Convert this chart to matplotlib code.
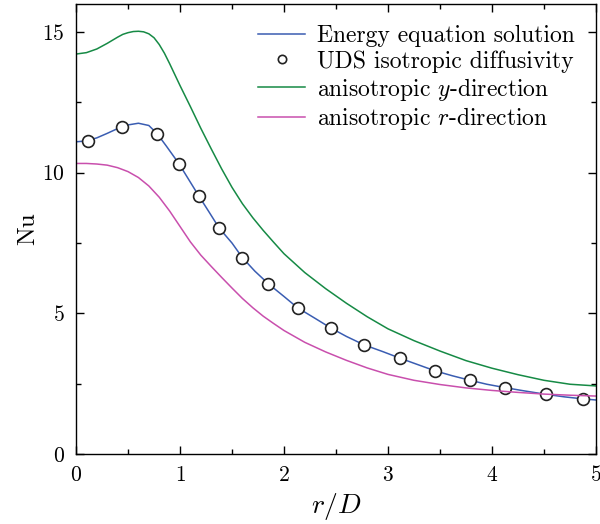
import matplotlib
matplotlib.use("Agg")
import matplotlib.pyplot as plt
import numpy as np

# values
x_energy = [0.0, 0.1, 0.2, 0.3, 0.4, 0.5, 0.6, 0.7, 0.78, 0.87, 0.99, 1.1, 1.18, 1.28, 1.375,
            1.5, 1.60, 1.72, 1.85, 2.0, 2.13, 2.3, 2.45, 2.6, 2.77, 2.95, 3.12, 3.3, 3.45,
            3.62, 3.79, 3.95, 4.125, 4.3, 4.52, 4.7, 4.875, 5.0]
nu_energy = [11.1, 11.13, 11.24, 11.4, 11.57, 11.7, 11.76, 11.68, 11.39, 10.94, 10.32, 9.66, 9.18,
             8.6, 8.04, 7.5, 6.98, 6.5, 6.05, 5.6, 5.2, 4.82, 4.48, 4.18, 3.88, 3.64, 3.4,
             3.16, 2.96, 2.78, 2.62, 2.48, 2.36, 2.25, 2.12, 2.03, 1.96, 1.92]

x_uds = [0.115, 0.44, 0.78, 0.99, 1.18, 1.375, 1.60, 1.85, 2.13, 2.45, 2.77,
         3.12, 3.45, 3.79, 4.125, 4.52, 4.875]
nu_uds = [11.14, 11.64, 11.39, 10.32, 9.18, 8.04, 6.98, 6.05, 5.2, 4.48, 3.88,
          3.4, 2.96, 2.62, 2.36, 2.12, 1.96]

x_y = [0.0, 0.1, 0.2, 0.3, 0.4, 0.45, 0.5, 0.55, 0.6, 0.65, 0.7, 0.75, 0.8, 0.85, 0.9, 1.0,
       1.1, 1.2, 1.3, 1.4, 1.5, 1.6, 1.7, 1.8, 1.9, 2.0, 2.2, 2.4, 2.6, 2.8, 3.0, 3.25, 3.5,
       3.75, 4.0, 4.25, 4.5, 4.75, 5.0]
nu_y = [14.22, 14.27, 14.4, 14.6, 14.82, 14.92, 14.98, 15.02, 15.03, 15.01, 14.94, 14.8, 14.56,
        14.25, 13.88, 13.1, 12.35, 11.58, 10.85, 10.14, 9.48, 8.9, 8.4, 7.95, 7.53, 7.12, 6.45,
        5.88, 5.36, 4.88, 4.45, 4.03, 3.66, 3.32, 3.05, 2.82, 2.62, 2.48, 2.42]

x_r = [0.0, 0.1, 0.2, 0.3, 0.4, 0.5, 0.6, 0.7, 0.8, 0.9, 1.0, 1.1, 1.2, 1.3, 1.4, 1.5, 1.6,
       1.7, 1.8, 1.9, 2.0, 2.2, 2.4, 2.6, 2.8, 3.0, 3.25, 3.5, 3.75, 4.0, 4.25, 4.5, 4.75, 5.0]
nu_r = [10.33, 10.33, 10.31, 10.27, 10.18, 10.04, 9.83, 9.53, 9.13, 8.64, 8.09, 7.54, 7.07,
        6.67, 6.28, 5.9, 5.53, 5.2, 4.9, 4.64, 4.39, 3.97, 3.63, 3.33, 3.06, 2.83, 2.62,
        2.47, 2.35, 2.26, 2.19, 2.13, 2.09, 2.06]

plt.rcParams['font.family'] = 'serif'
plt.rcParams['font.serif'] = ['cmr10']
plt.rcParams['mathtext.fontset'] = 'cm'
plt.rcParams['axes.formatter.use_mathtext'] = True
plt.rcParams['font.size'] = 15.5

fig = plt.figure(figsize=(6.0, 5.24), dpi=100)
ax = fig.add_axes([0.1267, 0.1336, 0.8666, 0.8588])

ax.plot(x_energy, nu_energy, color='#3a5db2', lw=1.1, label='Energy equation solution')
ax.plot(x_uds, nu_uds, 'o', ms=8.5, mfc='white', mec='#222222', mew=1.2,
        label='UDS isotropic diffusivity')
ax.plot(x_y, nu_y, color='#168a45', lw=1.1, label='anisotropic $y$-direction')
ax.plot(x_r, nu_r, color='#c94fad', lw=1.1, label='anisotropic $r$-direction')

ax.set_xlim(0, 5)
ax.set_ylim(0, 16)
ax.set_xticks([0, 1, 2, 3, 4, 5])
ax.set_xticks(np.arange(0.5, 5, 1.0), minor=True)
ax.set_yticks([0, 5, 10, 15])
ax.set_yticks([2.5, 7.5, 12.5], minor=True)
ax.tick_params(which='both', direction='in', top=True, right=True, width=1.0)
ax.tick_params(which='major', length=6, pad=8)
ax.tick_params(which='minor', length=3.5)
for s in ax.spines.values():
    s.set_linewidth(1.0)

ax.set_xlabel('$r/D$', fontsize=20, labelpad=4)
ax.set_ylabel('Nu', fontsize=18, labelpad=2)

leg = ax.legend(loc='upper right', fontsize=17, frameon=False, handlelength=2.0,
                handletextpad=0.5, labelspacing=0.12, borderaxespad=0.5)
for h in leg.legend_handles:
    if h.get_marker() == 'o':
        h.set_markersize(6)

fig.savefig('out.png', dpi=100)
